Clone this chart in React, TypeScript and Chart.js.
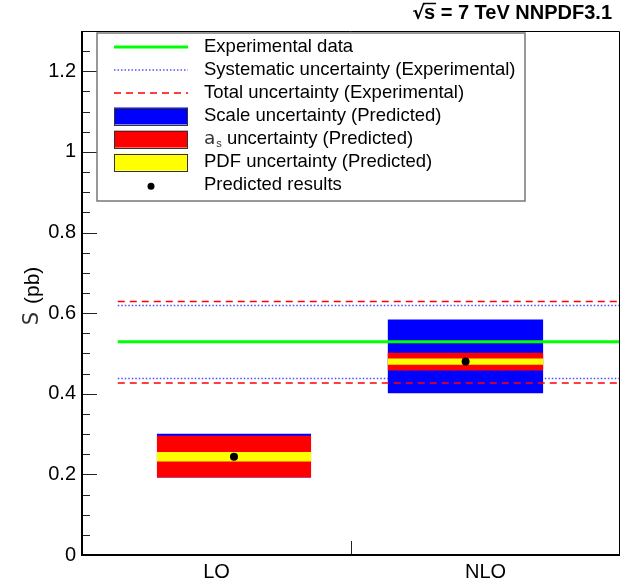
import React, { useEffect, useRef } from 'react';
import { Chart, registerables } from 'chart.js';

Chart.register(...registerables);

// ---- data ----
const categories = ['LO', 'NLO'];
const predicted = [0.244, 0.48];
const scaleHigh = [0.301, 0.584];
const scaleLow = [0.192, 0.401];
const alphasHigh = [0.296, 0.502];
const alphasLow = [0.192, 0.458];
const pdfHigh = [0.2555, 0.4876];
const pdfLow = [0.232, 0.472];
const boxStart = [0.278, 1.136];
const boxEnd = [0.852, 1.715];
const pointX = [0.565, 1.426];
const expCentral = 0.529;
const expSystHigh = 0.619;
const expSystLow = 0.438;
const expTotalHigh = 0.629;
const expTotalLow = 0.427;
const expLineRange = [0.133, 2];
const yMax = 1.3;
const yStep = 0.2;
const yMinorStep = 0.05;

const FONT = '"Liberation Sans", Arial, Helvetica, sans-serif';

const legendItems = [
  { kind: 'line', color: '#00ff00', width: 3, dash: [] as number[], text: 'Experimental data' },
  { kind: 'line', color: '#4d4dff', width: 1.5, dash: [1.5, 2], text: 'Systematic uncertainty (Experimental)' },
  { kind: 'line', color: '#ff0000', width: 1.5, dash: [7, 5], text: 'Total uncertainty (Experimental)' },
  { kind: 'box', color: '#0000ff', text: 'Scale uncertainty (Predicted)' },
  { kind: 'box', color: '#ff0000', text: 'as uncertainty (Predicted)' },
  { kind: 'box', color: '#ffff00', text: 'PDF uncertainty (Predicted)' },
  { kind: 'dot', color: '#000000', text: 'Predicted results' },
];

function hLine(y: number, color: string, width: number, dash: number[], order: number) {
  return {
    data: [
      { x: expLineRange[0], y },
      { x: expLineRange[1], y },
    ],
    borderColor: color,
    borderWidth: width,
    borderDash: dash,
    pointRadius: 0,
    fill: false,
    order,
  };
}

function boxes(hi: number[], lo: number[], color: string, order: number) {
  return categories.map((_, i) => ({
    data: [
      { x: boxStart[i], y: hi[i] },
      { x: boxEnd[i], y: hi[i] },
    ],
    borderColor: 'rgba(0,0,0,0)',
    borderWidth: 0,
    backgroundColor: color,
    pointRadius: 0,
    fill: { value: lo[i] },
    order,
  }));
}

const framePlugin = {
  id: 'frame',
  afterDraw(chart: any) {
    const { ctx, chartArea: a, scales } = chart;
    const ys = scales.y;
    const xs = scales.x;
    ctx.save();
    // ticks (inward)
    ctx.strokeStyle = '#222';
    ctx.lineWidth = 1;
    const n = Math.round(yMax / yMinorStep);
    for (let k = 1; k <= n; k++) {
      const v = k * yMinorStep;
      const py = Math.round(ys.getPixelForValue(v)) + 0.5;
      const major = Math.abs(v / yStep - Math.round(v / yStep)) < 1e-6;
      const len = major ? 15 : 8;
      ctx.beginPath();
      ctx.moveTo(a.left, py);
      ctx.lineTo(a.left + len, py);
      ctx.stroke();
    }
    for (let i = 1; i < categories.length; i++) {
      const px = Math.round(xs.getPixelForValue(i)) + 0.5;
      ctx.beginPath();
      ctx.moveTo(px, a.bottom);
      ctx.lineTo(px, a.bottom - 14);
      ctx.stroke();
    }
    // frame
    ctx.strokeStyle = '#000';
    ctx.lineWidth = 1;
    ctx.beginPath();
    ctx.moveTo(a.left, a.top + 0.5);
    ctx.lineTo(a.right - 0.5, a.top + 0.5);
    ctx.lineTo(a.right - 0.5, a.bottom);
    ctx.stroke();
    ctx.lineWidth = 2;
    ctx.beginPath();
    ctx.moveTo(a.left, a.top);
    ctx.lineTo(a.left, a.bottom);
    ctx.lineTo(a.right, a.bottom);
    ctx.stroke();

    // legend
    const lx0 = 97, lx1 = 525, ly0 = 33, ly1 = 201;
    ctx.fillStyle = '#fff';
    ctx.fillRect(lx0, ly0, lx1 - lx0, ly1 - ly0);
    ctx.strokeStyle = '#777';
    ctx.lineWidth = 1.5;
    ctx.strokeRect(lx0, ly0, lx1 - lx0, ly1 - ly0);
    const rowY0 = 46.7, rowStep = 23.1;
    const sx0 = 114, sx1 = 188, tx = 204;
    legendItems.forEach((it, i) => {
      const y = rowY0 + i * rowStep;
      ctx.save();
      if (it.kind === 'line') {
        ctx.strokeStyle = it.color;
        ctx.lineWidth = it.width as number;
        ctx.setLineDash(it.dash as number[]);
        ctx.beginPath();
        ctx.moveTo(sx0, Math.round(y));
        ctx.lineTo(sx1, Math.round(y));
        ctx.stroke();
      } else if (it.kind === 'box') {
        ctx.fillStyle = it.color;
        ctx.fillRect(sx0, y - 8.5, sx1 - sx0, 17);
        ctx.strokeStyle = '#333';
        ctx.lineWidth = 1;
        ctx.strokeRect(sx0 + 0.5, Math.round(y - 8.5) + 0.5, sx1 - sx0 - 1, 17);
      } else {
        ctx.fillStyle = it.color;
        ctx.beginPath();
        ctx.arc((sx0 + sx1) / 2, y + 1, 3.5, 0, Math.PI * 2);
        ctx.fill();
      }
      ctx.restore();
      ctx.fillStyle = '#000';
      ctx.textBaseline = 'middle';
      ctx.textAlign = 'left';
      ctx.font = `18.5px ${FONT}`;
      if (i === 4) {
        ctx.font = `18.5px "DejaVu Sans", ${FONT}`;
        ctx.fillStyle = '#333';
        ctx.fillText('a', tx, y);
        let w = ctx.measureText('a').width;
        ctx.font = `11px ${FONT}`;
        ctx.fillText('s', tx + w + 1, y + 5);
        w += ctx.measureText('s').width + 1;
        ctx.fillStyle = '#000';
        ctx.font = `18.5px ${FONT}`;
        ctx.fillText(' uncertainty (Predicted)', tx + w, y);
      } else {
        ctx.fillText(it.text, tx, y);
      }
    });

    // title
    ctx.fillStyle = '#000';
    ctx.font = `bold 20px ${FONT}`;
    ctx.textBaseline = 'alphabetic';
    ctx.textAlign = 'left';
    const rest = 's = 7 TeV NNPDF3.1';
    const restW = ctx.measureText(rest).width;
    const right = 612;
    const restX = right - restW;
    ctx.fillText(rest, restX, 19);
    ctx.font = `bold 19px "DejaVu Sans", ${FONT}`;
    const rw = ctx.measureText('\u221A').width;
    ctx.fillText('\u221A', restX - rw + 1, 19);
    ctx.font = `bold 20px ${FONT}`;
    const sw = ctx.measureText('s').width;
    ctx.strokeStyle = '#000';
    ctx.lineWidth = 1.5;
    ctx.beginPath();
    ctx.moveTo(restX - 1, 3.5);
    ctx.lineTo(restX + sw + 1, 3.5);
    ctx.stroke();

    // y title
    ctx.save();
    ctx.translate(33, 296);
    ctx.rotate(-Math.PI / 2);
    ctx.textAlign = 'left';
    ctx.textBaseline = 'middle';
    ctx.font = `21px ${FONT}`;
    const pb = '(pb)';
    const pbW = ctx.measureText(pb).width;
    ctx.font = `21px "DejaVu Sans", ${FONT}`;
    const sW = ctx.measureText('S').width;
    const total = sW + 8 + pbW;
    ctx.fillStyle = '#333';
    ctx.fillText('S', -total / 2, 0);
    ctx.fillStyle = '#000';
    ctx.font = `21px ${FONT}`;
    ctx.fillText(pb, -total / 2 + sW + 8, 0);
    ctx.restore();

    ctx.restore();
  },
};

export default function App() {
  const ref = useRef<HTMLCanvasElement | null>(null);
  useEffect(() => {
    if (!ref.current) return;
    const datasets: any[] = [
      hLine(expCentral, '#00ff00', 3, [], 1),
      hLine(expTotalHigh, '#ff0000', 1.5, [7, 5], 2),
      hLine(expTotalLow, '#ff0000', 1.5, [7, 5], 2),
      ...boxes(pdfHigh, pdfLow, '#ffff00', 4),
      ...boxes(alphasHigh, alphasLow, '#ff0000', 5),
      ...boxes(scaleHigh, scaleLow, '#0000ff', 6),
      hLine(expSystHigh, '#4d4dff', 1.5, [1.5, 2], 7),
      hLine(expSystLow, '#4d4dff', 1.5, [1.5, 2], 7),
      {
        data: categories.map((_, i) => ({ x: pointX[i], y: predicted[i] })),
        showLine: false,
        pointRadius: 4,
        pointBackgroundColor: '#000',
        pointBorderWidth: 0,
        borderColor: '#000',
        order: 0,
      },
    ];
    const chart = new Chart(ref.current, {
      type: 'line',
      data: { datasets },
      options: {
        animation: false,
        responsive: false,
        devicePixelRatio: 1,
        layout: { padding: { top: 31, right: 2, left: 0, bottom: 0 } },
        plugins: { legend: { display: false }, tooltip: { enabled: false }, title: { display: false } },
        scales: {
          x: {
            type: 'linear',
            min: 0,
            max: 2,
            grid: { display: false, drawTicks: false },
            border: { display: false },
            afterBuildTicks: (s: any) => {
              s.ticks = categories.map((_, i) => ({ value: i + 0.5 }));
            },
            afterFit: (s: any) => {
              s.height = 29;
            },
            ticks: {
              autoSkip: false,
              maxRotation: 0,
              padding: 5,
              color: '#000',
              font: { family: FONT, size: 20 },
              callback: (v: any) => categories[Math.floor(Number(v))],
            },
          },
          y: {
            type: 'linear',
            min: 0,
            max: yMax,
            grid: { display: false, drawTicks: false },
            border: { display: false },
            afterFit: (s: any) => {
              s.width = 82;
            },
            ticks: {
              stepSize: yStep,
              includeBounds: false,
              padding: 6,
              color: '#000',
              font: { family: FONT, size: 20 },
              callback: (v: any) => String(Number(Number(v).toFixed(1))),
            },
          },
        },
      },
      plugins: [framePlugin],
    } as any);
    return () => chart.destroy();
  }, []);
  return (
    <div style={{ position: 'fixed', left: 0, top: 0, width: 624, height: 584, background: '#fff' }}>
      <canvas ref={ref} width={624} height={584} style={{ width: 624, height: 584 }} />
    </div>
  );
}
